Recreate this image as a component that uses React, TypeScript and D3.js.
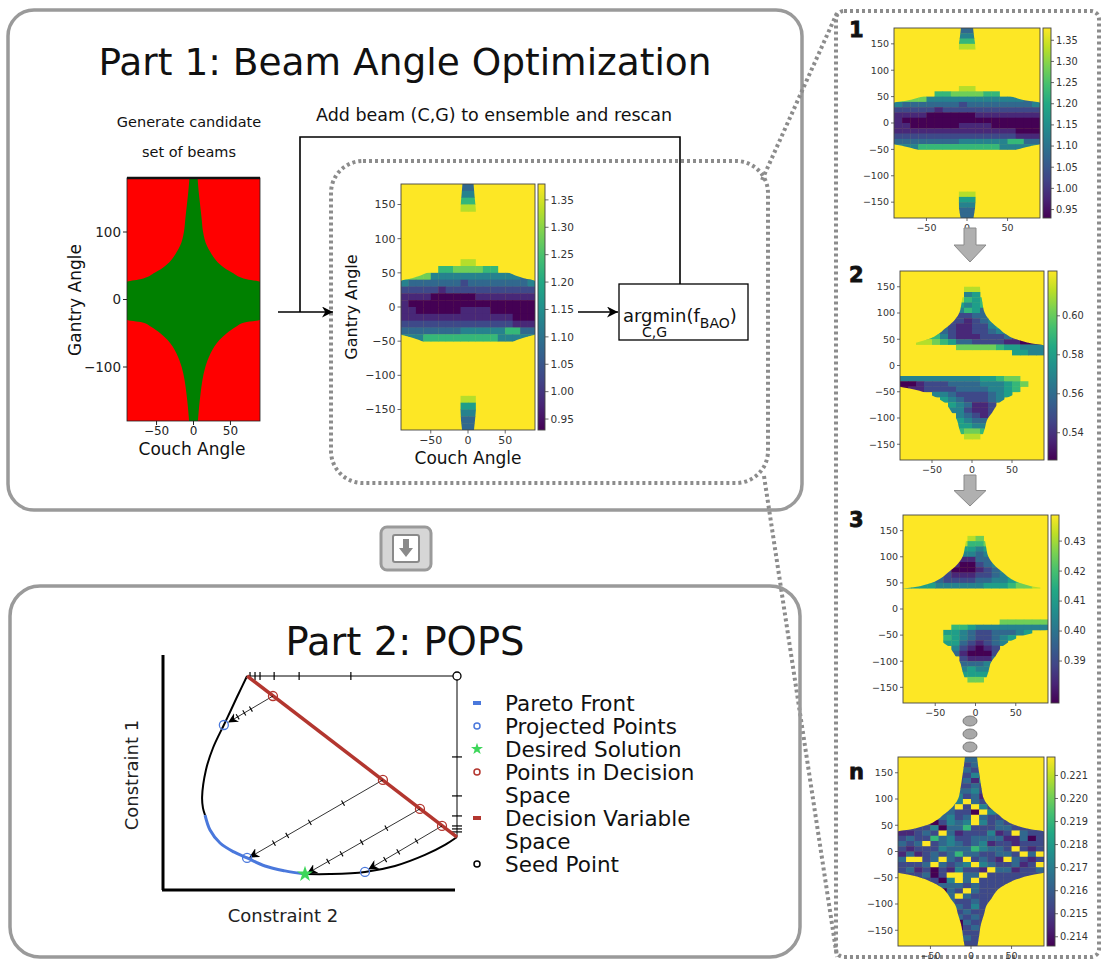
import React from "react";
import * as d3 from "d3";

const FONT = "DejaVu Sans, Verdana, sans-serif";

// ---------- data ----------
const couchTicks = [-50, 0, 50];
const gantryTicks = [150, 100, 50, 0, -50, -100, -150];
const gantryTicksFeas = [100, 0, -100];

// feasible (green) region of the candidate beam set: half width in couch degrees per gantry angle
const feasGantry = [180, 160, 140, 120, 100, 80, 70, 60, 50, 40, 30, 26, -30, -34, -40, -50, -60, -70, -80, -100, -120, -140, -160, -180];
const feasHalf = [5.5, 7, 9, 11, 13, 18, 23, 29, 38, 52, 72, 90, 90, 69, 58, 45, 35, 28, 23, 16, 12, 9.5, 7.5, 6];

// outline of the scanned region in the cost maps
const clipGantry = [180, 160, 140, 120, 100, 90, 80, 70, 60, 50, 42, 38, -40, -44, -50, -60, -70, -80, -90, -100, -120, -140, -160, -180];
const clipHalf = [7.5, 9, 11, 13, 16, 20, 26, 34, 42, 55, 75, 90, 90, 78, 62, 46, 35, 29, 25, 20, 16, 12, 10, 8];

// cost-map cells: [gantry top, couch left, levels 0-9 (10 degree cells)]
type Run = [number, number, string];
const gridBAO: Run[] = [
  [180, -10, "33"], [170, -10, "44"], [160, -10, "66"], [150, -10, "88"],
  [70, -10, "88"],
  [60, -40, "66777766"],
  [50, -90, "777744444444444433"],
  [40, -90, "433333332333333334"],
  [30, -90, "222221222222222222"],
  [20, -90, "111100000011111111"],
  [10, -90, "100000000000000000"],
  [0, -90, "110000001111000000"],
  [-10, -90, "111111111111111000"],
  [-20, -90, "222222222222222111"],
  [-30, -90, "333333334444446633"],
  [-40, -90, "444666666666644444"],
  [-130, -10, "88"], [-140, -10, "55"], [-150, -10, "44"], [-160, -10, "33"], [-170, -10, "33"],
];
const gridScan2: Run[] = [
  [150, -10, "88"], [140, -10, "45"], [130, -20, "8656"], [120, -20, "5456"],
  [110, -30, "346534"], [100, -40, "34223346"], [90, -50, "3222123456"],
  [80, -50, "43211224566"], [70, -60, "5432112234455"], [60, -70, "766421112223210"],
  [50, -70, "8876533222211000"], [40, -20, "77777655444"], [30, 50, "5544"],
  [-20, -90, "444444444455677"], [-30, -90, "0012223333444567"], [-40, -90, "011222233334456"],
  [-50, -50, "4432222345"], [-60, -40, "54322234"], [-70, -30, "543112"], [-80, -30, "442112"],
  [-90, -20, "43212"], [-100, -20, "5433"], [-110, -20, "5544"], [-120, -20, "6776"], [-130, -10, "88"],
];
const gridScan3: Run[] = [
  [140, -10, "87"], [130, -20, "8667"], [120, -20, "5545"], [110, -30, "344345"],
  [100, -40, "32113345"], [90, -50, "3210023445"], [80, -50, "32000123445"],
  [70, -60, "4321112234556"], [60, -80, "544322223344567"], [50, -90, "55554444445556778"],
  [-20, 30, "777777"], [-30, -30, "665444444444"], [-40, -40, "55432233345"],
  [-50, -40, "654322345"], [-60, -40, "55321234"], [-70, -30, "421012"], [-80, -30, "310002"],
  [-90, -20, "21113"], [-100, -20, "3334"], [-110, -20, "4544"], [-120, -20, "5555"], [-130, -10, "77"],
];
// final scan, one row per 10 degrees of gantry from 180 down to -170
const gridScanNRows = [
  "222222223322222222", "222222222322222222", "222222223222222222", "222222222422222222",
  "222222223142222222", "222222222322222222", "222222233422222222", "222222242312222222",
  "222222249322222222", "222222392942222222", "222223322094322222", "222223423932232222",
  "222202434942322222", "222240336222332222", "112329312224129322", "232263422333311302",
  "323923432341221222", "212224333643329212", "131232363322332939", "399239329232193212",
  "222393234943223129", "231202142219331223", "222302993392222222", "222220493922222222",
  "222223332322222222", "222220329322222222", "222222393222222222", "222222322322222222",
  "222222232422222222", "222222223222222222", "222222232322222222", "222222203222222222",
  "222222202322222222", "222222232222222222", "222222223222222222", "222222232222222222",
];
const gridScanN: Run[] = gridScanNRows.map((s, i) => [180 - 10 * i, -90, s] as Run);

const cbTicksBAO = [0.95, 1.0, 1.05, 1.1, 1.15, 1.2, 1.25, 1.3, 1.35];
const cbDomainBAO = [0.93, 1.379];
const cbTicks2 = [0.54, 0.56, 0.58, 0.6];
const cbDomain2 = [0.526, 0.623];
const cbTicks3 = [0.39, 0.4, 0.41, 0.42, 0.43];
const cbDomain3 = [0.376, 0.4387];
const cbTicksN = [0.214, 0.215, 0.216, 0.217, 0.218, 0.219, 0.22, 0.221];
const cbDomainN = [0.2136, 0.2218];

// POPS sketch (constraint space units, 0-100)
const frontUpper: [number, number][] = [[28.6, 100], [25.5, 91.1], [22.8, 83.1], [20.7, 77.0], [17.0, 66.2], [14.6, 55.9], [13.3, 43.2], [13.6, 38.0], [14.3, 34.7]];
const paretoFront: [number, number][] = [[14.3, 34.7], [16.0, 27.7], [19.4, 21.6], [24.1, 17.4], [28.6, 14.6], [34.7, 10.8], [41.5, 8.5], [48.3, 7.0]];
const frontLower: [number, number][] = [[48.3, 7.0], [56.8, 7.0], [68.7, 8.0], [78.9, 10.8], [89.1, 16.0], [95.9, 20.7], [100, 24.4]];
const decisionLine: [number, number][] = [[28.6, 100], [100, 24.4]];
const decisionPoints: [number, number][] = [[37.4, 90.6], [74.8, 51.2], [87.4, 37.6], [94.9, 29.6]];
const projectionTargets: [number, number][] = [[22.4, 78.4], [29.6, 15.0], [49.3, 7.5], [70.1, 9.4]];
const projectionTicks = [[0.5, 0.65, 0.8], [0.3, 0.55, 0.72, 0.82], [0.3, 0.52, 0.7, 0.82], [0.35, 0.6, 0.78]];
const projectedPoints: [number, number][] = [[20.7, 77.0], [28.6, 14.6], [68.7, 8.0]];
const desiredSolution: [number, number] = [48.3, 7.0];
const seedPoint: [number, number] = [100, 100];
const topAxisTicks = [29.6, 31.3, 33.0, 37.8, 46.3, 63.9];
const rightAxisTicks = [62.0, 43.7, 34.3, 29.6, 28.2, 26.8];

const legendLabels = [["Pareto Front"], ["Projected Points"], ["Desired Solution"], ["Points in Decision", "Space"], ["Decision Variable", "Space"], ["Seed Point"]];
const legendKinds = ["blueDash", "blueCircle", "star", "redCircle", "redDash", "blackCircle"];

const BLUE = "#4a78dc";
const RED = "#b3362f";
const GREEN = "#3dd65a";
const viridis = d3.interpolateViridis;

// ---------- components ----------
type HeatProps = {
  id: string; x0: number; x1: number; y0: number; y1: number; cbX: number; cbW: number;
  runs: Run[]; cbDomain: number[]; cbTicks: number[]; fmt: string;
  tickFont: number; cbFont: number; tickLen: number;
};

function Heatmap(p: HeatProps) {
  const xs = d3.scaleLinear().domain([-90, 90]).range([p.x0, p.x1]);
  const ys = d3.scaleLinear().domain([-180, 180]).range([p.y1, p.y0]);
  const cs = d3.scaleLinear().domain(p.cbDomain).range([p.y1, p.y0]);
  const clipArea = d3
    .area<number>()
    .curve(d3.curveMonotoneY)
    .y((_, i) => ys(clipGantry[i]))
    .x0((_, i) => xs(-clipHalf[i]))
    .x1((_, i) => xs(clipHalf[i]));
  const cells = p.runs.flatMap(([g, c, s]) =>
    s.split("").map((ch, k) => ({ g, c: c + 10 * k, v: ch })).filter((d) => d.v !== ".")
  );
  const fmt = d3.format(p.fmt);
  const axisColor = "#444";
  return (
    <g fontFamily={FONT}>
      <defs>
        <clipPath id={`clip-${p.id}`}>
          <path d={clipArea(clipGantry) || ""} />
        </clipPath>
        <linearGradient id={`cb-${p.id}`} x1="0" y1="1" x2="0" y2="0">
          {d3.range(11).map((i) => (
            <stop key={i} offset={i / 10} stopColor={viridis(i / 10)} />
          ))}
        </linearGradient>
      </defs>
      <rect x={p.x0} y={p.y0} width={p.x1 - p.x0} height={p.y1 - p.y0} fill={viridis(1)} />
      <g clipPath={`url(#clip-${p.id})`}>
        {cells.map((d, i) => (
          <rect
            key={i}
            x={xs(d.c)}
            y={ys(d.g)}
            width={xs(d.c + 10) - xs(d.c) + 0.4}
            height={ys(d.g - 10) - ys(d.g) + 0.4}
            fill={viridis(+d.v / 9)}
          />
        ))}
      </g>
      <rect x={p.x0} y={p.y0} width={p.x1 - p.x0} height={p.y1 - p.y0} fill="none" stroke={axisColor} strokeWidth={0.9} />
      {gantryTicks.map((t) => (
        <g key={t}>
          <line x1={p.x0 - p.tickLen} x2={p.x0} y1={ys(t)} y2={ys(t)} stroke={axisColor} strokeWidth={0.8} />
          <text x={p.x0 - p.tickLen - 2} y={ys(t)} dy="0.35em" textAnchor="end" fontSize={p.tickFont} fill="#333">
            {d3.format("d")(t)}
          </text>
        </g>
      ))}
      {couchTicks.map((t) => (
        <g key={t}>
          <line x1={xs(t)} x2={xs(t)} y1={p.y1} y2={p.y1 + p.tickLen} stroke={axisColor} strokeWidth={0.8} />
          <text x={xs(t)} y={p.y1 + p.tickLen + 2} dy="0.8em" textAnchor="middle" fontSize={p.tickFont} fill="#333">
            {d3.format("d")(t)}
          </text>
        </g>
      ))}
      <rect x={p.cbX} y={p.y0} width={p.cbW} height={p.y1 - p.y0} fill={`url(#cb-${p.id})`} stroke={axisColor} strokeWidth={0.9} />
      {p.cbTicks.map((t) => (
        <g key={t}>
          <line x1={p.cbX + p.cbW} x2={p.cbX + p.cbW + p.tickLen} y1={cs(t)} y2={cs(t)} stroke={axisColor} strokeWidth={0.8} />
          <text x={p.cbX + p.cbW + p.tickLen + 2} y={cs(t)} dy="0.35em" fontSize={p.cbFont} fill="#333">
            {fmt(t)}
          </text>
        </g>
      ))}
    </g>
  );
}

function FeasibleMap() {
  const x0 = 127, x1 = 260, y0 = 178, y1 = 421;
  const xs = d3.scaleLinear().domain([-90, 90]).range([x0, x1]);
  const ys = d3.scaleLinear().domain([-180, 180]).range([y1, y0]);
  const area = d3
    .area<number>()
    .curve(d3.curveMonotoneY)
    .y((_, i) => ys(feasGantry[i]))
    .x0((_, i) => xs(-feasHalf[i]))
    .x1((_, i) => xs(feasHalf[i]));
  return (
    <g fontFamily={FONT}>
      <defs>
        <clipPath id="clip-feas">
          <rect x={x0} y={y0} width={x1 - x0} height={y1 - y0} />
        </clipPath>
      </defs>
      <rect x={x0} y={y0} width={x1 - x0} height={y1 - y0} fill="#ff0000" />
      <path d={area(feasGantry) || ""} fill="#008000" clipPath="url(#clip-feas)" />
      <rect x={x0} y={y0} width={x1 - x0} height={y1 - y0} fill="none" stroke="#222" strokeWidth={0.8} />
      <line x1={x0} x2={x1} y1={y0} y2={y0} stroke="#111" strokeWidth={2.5} />
      {gantryTicksFeas.map((t) => (
        <g key={t}>
          <line x1={x0 - 4} x2={x0} y1={ys(t)} y2={ys(t)} stroke="#222" />
          <text x={x0 - 6} y={ys(t)} dy="0.35em" textAnchor="end" fontSize={13.5} fill="#222">
            {d3.format("d")(t)}
          </text>
        </g>
      ))}
      {couchTicks.map((t) => (
        <g key={t}>
          <line x1={xs(t)} x2={xs(t)} y1={y1} y2={y1 + 4} stroke="#222" />
          <text x={xs(t)} y={y1 + 5} dy="0.75em" textAnchor="middle" fontSize={12} fill="#222">
            {d3.format("d")(t)}
          </text>
        </g>
      ))}
      <text x={192} y={455} textAnchor="middle" fontSize={17} fill="#111">Couch Angle</text>
      <text transform="translate(81,300) rotate(-90)" textAnchor="middle" fontSize={17} fill="#111">Gantry Angle</text>
    </g>
  );
}

function Pops() {
  const xs = d3.scaleLinear().domain([0, 100]).range([163, 457]);
  const ys = d3.scaleLinear().domain([0, 100]).range([889, 676]);
  const line = d3.line<[number, number]>().curve(d3.curveCatmullRom).x((d) => xs(d[0])).y((d) => ys(d[1]));
  const star = d3.symbol(d3.symbolStar, 80)();
  const starSmall = d3.symbol(d3.symbolStar, 45)();
  return (
    <g fontFamily={FONT}>
      <defs>
        <marker id="popsArrow" viewBox="0 0 10 10" refX="9" refY="5" markerWidth="10" markerHeight="10" markerUnits="userSpaceOnUse" orient="auto">
          <path d="M0,0 L10,5 L0,10 L3,5 z" fill="#000" />
        </marker>
      </defs>
      <line x1={163} x2={163} y1={655} y2={890} stroke="#000" strokeWidth={3} />
      <line x1={162} x2={455} y1={890} y2={890} stroke="#000" strokeWidth={3} />
      {/* top and right scan axes */}
      <line x1={xs(28.6)} x2={xs(100)} y1={ys(100)} y2={ys(100)} stroke="#000" strokeWidth={1} />
      <line x1={xs(100)} x2={xs(100)} y1={ys(100)} y2={ys(24.4)} stroke="#000" strokeWidth={1} />
      {topAxisTicks.map((t) => (
        <line key={t} x1={xs(t)} x2={xs(t)} y1={ys(100) - 4} y2={ys(100) + 4} stroke="#000" strokeWidth={1.2} />
      ))}
      {rightAxisTicks.map((t) => (
        <line key={t} x1={xs(100) - 5} x2={xs(100) + 5} y1={ys(t)} y2={ys(t)} stroke="#000" strokeWidth={1.2} />
      ))}
      <path d={line(frontUpper) || ""} fill="none" stroke="#000" strokeWidth={2} />
      <path d={line(frontLower) || ""} fill="none" stroke="#000" strokeWidth={2} />
      <path d={line(paretoFront) || ""} fill="none" stroke={BLUE} strokeWidth={3} />
      <line x1={xs(decisionLine[0][0])} y1={ys(decisionLine[0][1])} x2={xs(decisionLine[1][0])} y2={ys(decisionLine[1][1])} stroke={RED} strokeWidth={3.5} />
      {decisionPoints.map((d, i) => {
        const t = projectionTargets[i];
        const ax = xs(d[0]), ay = ys(d[1]), bx = xs(t[0]), by = ys(t[1]);
        const len = Math.hypot(bx - ax, by - ay);
        const nx = -(by - ay) / len, ny = (bx - ax) / len;
        return (
          <g key={i}>
            <line x1={ax} y1={ay} x2={bx} y2={by} stroke="#000" strokeWidth={0.8} markerEnd="url(#popsArrow)" />
            {projectionTicks[i].map((f) => {
              const px = ax + (bx - ax) * f, py = ay + (by - ay) * f;
              return <line key={f} x1={px - nx * 3} y1={py - ny * 3} x2={px + nx * 3} y2={py + ny * 3} stroke="#000" strokeWidth={1.1} />;
            })}
          </g>
        );
      })}
      {decisionPoints.map((d, i) => (
        <circle key={i} cx={xs(d[0])} cy={ys(d[1])} r={4.5} fill="none" stroke={RED} strokeWidth={1.3} />
      ))}
      {projectedPoints.map((d, i) => (
        <circle key={i} cx={xs(d[0])} cy={ys(d[1])} r={4.5} fill="none" stroke={BLUE} strokeWidth={1.3} />
      ))}
      <path d={star || ""} transform={`translate(${xs(desiredSolution[0])},${ys(desiredSolution[1])})`} fill={GREEN} />
      <circle cx={xs(seedPoint[0])} cy={ys(seedPoint[1])} r={4} fill="#fff" stroke="#000" strokeWidth={1.3} />
      <text x={283} y={922} textAnchor="middle" fontSize={18} fill="#222">Constraint 2</text>
      <text transform="translate(138,775) rotate(-90)" textAnchor="middle" fontSize={18} fill="#222">Constraint 1</text>
      {/* legend */}
      {(() => {
        let row = 0;
        return legendLabels.map((lines, i) => {
          const y = 703 + row * 23;
          row += lines.length;
          const kind = legendKinds[i];
          const mx = 477;
          return (
            <g key={i}>
              {kind === "blueDash" && <rect x={mx - 4} y={y - 2} width={8} height={4} fill={BLUE} />}
              {kind === "redDash" && <rect x={mx - 4} y={y - 2} width={8} height={4} fill={RED} />}
              {kind === "blueCircle" && <circle cx={mx} cy={y} r={3} fill="none" stroke={BLUE} strokeWidth={1.5} />}
              {kind === "redCircle" && <circle cx={mx} cy={y} r={3} fill="none" stroke={RED} strokeWidth={1.5} />}
              {kind === "blackCircle" && <circle cx={mx} cy={y} r={3} fill="none" stroke="#000" strokeWidth={1.5} />}
              {kind === "star" && <path d={starSmall || ""} transform={`translate(${mx},${y})`} fill={GREEN} />}
              {lines.map((l, k) => (
                <text key={k} x={505} y={y + k * 23} dy="0.35em" fontSize={21.5} fill="#111">
                  {l}
                </text>
              ))}
            </g>
          );
        });
      })()}
    </g>
  );
}

function GrayArrow({ cx, y0, y1 }: { cx: number; y0: number; y1: number }) {
  const head = (y1 - y0) * 0.5;
  const d = `M${cx - 6},${y0} L${cx + 6},${y0} L${cx + 6},${y1 - head} L${cx + 16},${y1 - head} L${cx},${y1} L${cx - 16},${y1 - head} L${cx - 6},${y1 - head} Z`;
  return <path d={d} fill="#b0b0b0" stroke="#8a8a8a" strokeWidth={1} />;
}

export default function App() {
  const dot = { stroke: "#8c8c8c", strokeWidth: 4, strokeDasharray: "3 3", fill: "none" };
  return (
    <svg width={1104} height={962} style={{ position: "absolute", left: 0, top: 0, background: "#fff" }}>
      <defs>
        <marker id="blkArrow" viewBox="0 0 10 10" refX="10" refY="5" markerWidth="11" markerHeight="11" markerUnits="userSpaceOnUse" orient="auto">
          <path d="M0,0 L10,5 L0,10 L3,5 z" fill="#000" />
        </marker>
      </defs>
      <rect x={0} y={0} width={1104} height={962} fill="#fff" />

      {/* Part 1 */}
      <rect x={8} y={10} width={794} height={500} rx={26} fill="none" stroke="#9a9a9a" strokeWidth={3.5} />
      <text x={405} y={75} textAnchor="middle" fontFamily={FONT} fontSize={37.5} fill="#111">Part 1: Beam Angle Optimization</text>
      <text x={189} y={127} textAnchor="middle" fontFamily={FONT} fontSize={14.5} fill="#111">Generate candidate</text>
      <text x={189} y={157} textAnchor="middle" fontFamily={FONT} fontSize={14.5} fill="#111">set of beams</text>
      <text x={494} y={121} textAnchor="middle" fontFamily={FONT} fontSize={17.5} fill="#111">Add beam (C,G) to ensemble and rescan</text>

      <FeasibleMap />

      <rect x={331} y={161} width={437} height={322} rx={32} {...dot} />
      <line x1={762} y1={180} x2={837} y2={13} {...dot} />
      <line x1={764} y1={476} x2={837} y2={957} {...dot} />
      <rect x={836} y={11} width={263} height={946} rx={8} {...dot} />

      {/* connectors */}
      <line x1={278} y1={312} x2={333} y2={312} stroke="#000" strokeWidth={1.6} markerEnd="url(#blkArrow)" />
      <polyline points="300,312 300,137 680,137 680,284" fill="none" stroke="#000" strokeWidth={1.6} />
      <line x1={578} y1={312} x2={618} y2={312} stroke="#000" strokeWidth={1.6} markerEnd="url(#blkArrow)" />
      <rect x={619} y={284} width={129} height={56} fill="#fff" stroke="#000" strokeWidth={1.3} />
      <text x={623} y={322} fontFamily={FONT} fontSize={18} fill="#111">
        argmin(f<tspan fontSize={14} dy={6}>BAO</tspan><tspan fontSize={18} dy={-6}>)</tspan>
      </text>
      <text x={642} y={337} fontFamily={FONT} fontSize={14} fill="#111">C,G</text>

      <Heatmap id="main" x0={401} x1={535} y0={184} y1={430} cbX={538} cbW={7} runs={gridBAO}
        cbDomain={cbDomainBAO} cbTicks={cbTicksBAO} fmt=".2f" tickFont={11} cbFont={10.5} tickLen={3.5} />
      <text x={468} y={464} textAnchor="middle" fontFamily={FONT} fontSize={17} fill="#111">Couch Angle</text>
      <text transform="translate(357,307) rotate(-90)" textAnchor="middle" fontFamily={FONT} fontSize={16} fill="#111">Gantry Angle</text>

      {/* arrow button */}
      <rect x={381} y={527} width={50} height={43} rx={6} fill="#d6d6d6" stroke="#9a9a9a" strokeWidth={3} />
      <rect x={393} y={535} width={26} height={27} rx={2} fill="#fff" stroke="#8a8a8a" strokeWidth={2} />
      <path d="M403,539 L409,539 L409,548 L413,548 L406,557 L399,548 L403,548 Z" fill="#8a8a8a" />

      {/* Part 2 */}
      <rect x={10} y={586} width={790} height={371} rx={30} fill="none" stroke="#9a9a9a" strokeWidth={3.5} />
      <text x={405} y={655} textAnchor="middle" fontFamily={FONT} fontSize={38.5} fill="#111">Part 2: POPS</text>
      <Pops />

      {/* scan sequence */}
      <Heatmap id="s1" x0={894} x1={1040} y0={28} y1={218} cbX={1043} cbW={8} runs={gridBAO}
        cbDomain={cbDomainBAO} cbTicks={cbTicksBAO} fmt=".2f" tickFont={9.5} cbFont={9.8} tickLen={3} />
      <Heatmap id="s2" x0={900} x1={1044} y0={271} y1={460} cbX={1048} cbW={9} runs={gridScan2}
        cbDomain={cbDomain2} cbTicks={cbTicks2} fmt=".2f" tickFont={9.5} cbFont={9.8} tickLen={3} />
      <Heatmap id="s3" x0={903} x1={1048} y0={515} y1={703} cbX={1051} cbW={8} runs={gridScan3}
        cbDomain={cbDomain3} cbTicks={cbTicks3} fmt=".2f" tickFont={9.5} cbFont={9.8} tickLen={3} />
      <Heatmap id="sn" x0={898} x1={1044} y0={757} y1={946} cbX={1047} cbW={8} runs={gridScanN}
        cbDomain={cbDomainN} cbTicks={cbTicksN} fmt=".3f" tickFont={9.5} cbFont={9.8} tickLen={3} />
      {[["1", 30], ["2", 275], ["3", 520], ["n", 772]].map(([s, y]) => (
        <text key={s as string} x={849} y={(y as number) + 7} fontFamily={FONT} fontWeight="bold" fontSize={21} fill="#111" stroke="#111" strokeWidth={0.8}>{s}</text>
      ))}
      <GrayArrow cx={970} y0={228} y1={262} />
      <GrayArrow cx={970} y0={475} y1={506} />
      {[721, 734, 747].map((y) => (
        <ellipse key={y} cx={970} cy={y} rx={7} ry={5} fill="#a8a8a8" stroke="#7a7a7a" strokeWidth={1} />
      ))}
    </svg>
  );
}
